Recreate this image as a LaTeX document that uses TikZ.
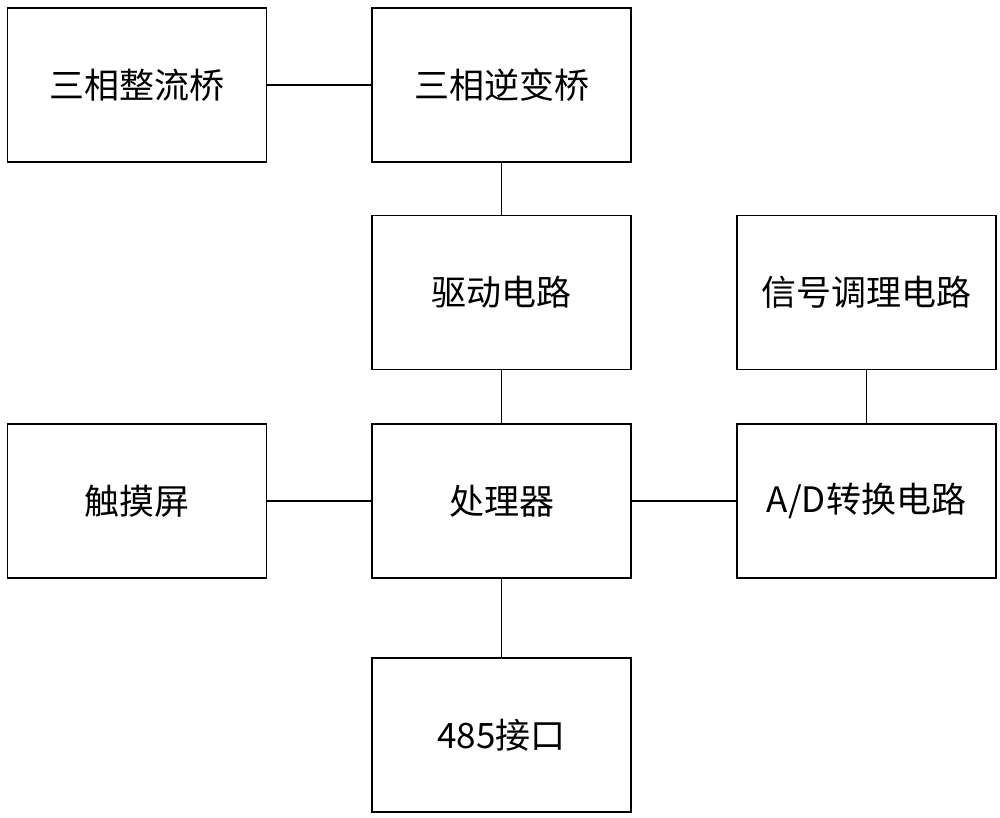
\documentclass[tikz,border=0pt]{standalone}
\usepackage{fontspec}
\newfontfamily\cjk{Noto Sans CJK SC}
\begin{document}
\begin{tikzpicture}[x=1pt,y=-1pt,
  blk/.style={draw,line width=1.2pt,minimum width=259pt,minimum height=154pt,inner sep=0pt,font=\cjk\fontsize{35}{40}\selectfont},
  ln/.style={line width=1.2pt}]
\useasboundingbox (0,0) rectangle (1000,818);
\node[blk] (a) at (137,85) {三相整流桥};
\node[blk] (b) at (501.5,85) {三相逆变桥};
\node[blk] (c) at (501.5,292.5) {驱动电路};
\node[blk] (d) at (866.5,292.5) {信号调理电路};
\node[blk] (e) at (137,501) {触摸屏};
\node[blk] (f) at (501.5,501) {处理器};
\node[blk] (g) at (866.5,501) {A/D转换电路};
\node[blk] (h) at (501.5,735) {485接口};
\draw[ln] (a) -- (b);
\draw[ln] (b) -- (c);
\draw[ln] (c) -- (f);
\draw[ln] (d) -- (g);
\draw[ln] (e) -- (f);
\draw[ln] (f) -- (g);
\draw[ln] (f) -- (h);
\end{tikzpicture}
\end{document}
